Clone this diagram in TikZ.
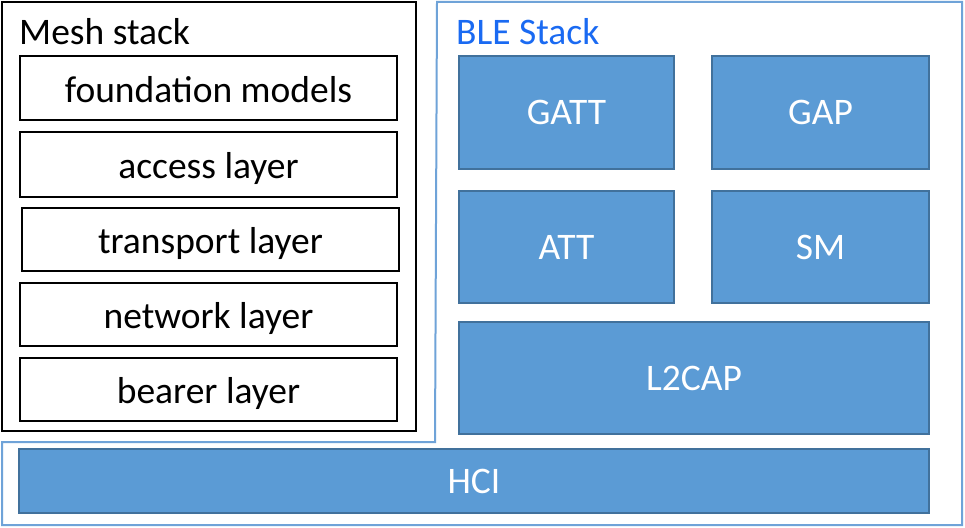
\documentclass[tikz,border=0pt]{standalone}
\usepackage{fontspec}
\setmainfont{Carlito}
\definecolor{bfill}{HTML}{5B9BD5}
\definecolor{bline}{HTML}{41719C}
\definecolor{oline}{HTML}{6FA3D8}
\definecolor{ttl}{HTML}{1A6AF2}
\begin{document}
\begin{tikzpicture}[x=1pt,y=-1pt,
  meshbox/.style={draw=black,line width=2pt,fill=white,inner sep=0pt,text height=30pt,text depth=2pt,font=\fontsize{37.5}{45}\selectfont},
  blebox/.style={draw=bline,line width=2.5pt,fill=bfill,text=white,inner sep=0pt,text height=26pt,text depth=2pt,font=\fontsize{37.5}{45}\selectfont},
  title/.style={anchor=west,inner sep=0pt,font=\fontsize{37.5}{45}\selectfont}]
\useasboundingbox[fill=white] (0,0) rectangle (965,527);
% BLE outline
\draw[oline,line width=2pt] (437,2) -- (962,2) -- (962,525) -- (2,525) -- (2,442) -- (435,442) -- cycle;
% Mesh outer
\node[draw=black,line width=2.5pt,minimum width=414pt,minimum height=429pt,inner sep=0pt] (mesh) at (209,216.5) {};
\node[title] (meshtitle) at (19,32) {Mesh stack};
\node[title,text=ttl] (bletitle) at (456,32) {BLE Stack};
% mesh layers
\node[meshbox,minimum width=377pt,minimum height=64pt] (found) at (208.5,88) {foundation models};
\node[meshbox,minimum width=377pt,minimum height=65pt] (access) at (208.5,164.5) {access layer};
\node[meshbox,minimum width=377pt,minimum height=63pt] (transport) at (210.5,239.5) {transport layer};
\node[meshbox,minimum width=377pt,minimum height=63pt] (network) at (208.5,314.5) {network layer};
\node[meshbox,minimum width=377pt,minimum height=63pt] (bearer) at (208.5,389.5) {bearer layer};
% BLE blocks
\node[blebox,minimum width=215pt,minimum height=113pt] (gatt) at (566.5,112.5) {GATT};
\node[blebox,minimum width=217pt,minimum height=113pt] (gap) at (820.5,112.5) {GAP};
\node[blebox,minimum width=215pt,minimum height=112pt] (att) at (566.5,247) {ATT};
\node[blebox,minimum width=217pt,minimum height=112pt] (sm) at (820.5,247) {SM};
\node[blebox,minimum width=470pt,minimum height=112pt] (l2cap) at (694,378) {L2CAP};
\node[blebox,minimum width=910pt,minimum height=64pt] (hci) at (474,481) {HCI};
\end{tikzpicture}
\end{document}
